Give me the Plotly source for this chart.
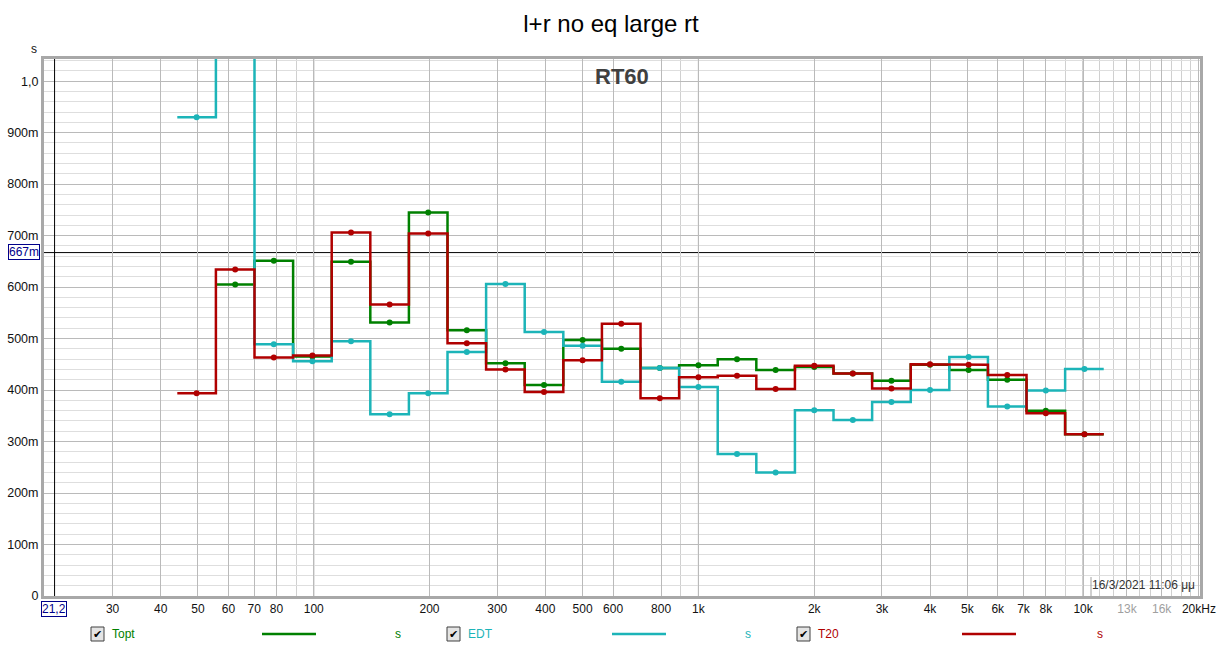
import math
import plotly.graph_objects as go

# 1/3 octave band centres (nominal, Hz)
bands = [50, 63, 80, 100, 125, 160, 200, 250, 315, 400, 500, 630, 800,
         1000, 1250, 1600, 2000, 2500, 3150, 4000, 5000, 6300, 8000, 10000]

# RT60 values per band (s), None = no value
topt = [None, 0.605, 0.651, 0.465, 0.649, 0.531, 0.745, 0.516, 0.452, 0.410, 0.497, 0.480,
        0.443, 0.448, 0.460, 0.439, 0.445, 0.432, 0.418, 0.449, 0.439, 0.420, 0.360, 0.314]
edt = [0.930, 1.250, 0.489, 0.456, 0.495, 0.353, 0.394, 0.474, 0.606, 0.513, 0.486, 0.416,
       0.443, 0.406, 0.276, 0.240, 0.361, 0.342, 0.377, 0.400, 0.464, 0.368, 0.399, 0.441]
t20 = [0.394, 0.634, 0.463, 0.467, 0.706, 0.566, 0.704, 0.491, 0.440, 0.396, 0.458, 0.529,
       0.384, 0.425, 0.428, 0.402, 0.447, 0.432, 0.403, 0.450, 0.449, 0.429, 0.355, 0.314]

x_tickvals = [30, 40, 50, 60, 70, 80, 100, 200, 300, 400, 500, 600, 800, 1000, 2000, 3000,
              4000, 5000, 6000, 7000, 8000, 10000, 13000, 16000, 20000]
x_ticktext = ["30", "40", "50", "60", "70", "80", "100", "200", "300", "400", "500", "600",
              "800", "1k", "2k", "3k", "4k", "5k", "6k", "7k", "8k", "10k",
              "<span style='color:#a0a0a0'>13k</span>", "<span style='color:#a0a0a0'>16k</span>",
              "20kHz"]
x_minor = [90, 900, 9000, 11000, 12000, 14000, 15000, 17000, 18000, 19000]
y_tickvals = [0, 0.1, 0.2, 0.3, 0.4, 0.5, 0.6, 0.7, 0.8, 0.9, 1.0]
y_ticktext = ["0", "100m", "200m", "300m", "400m", "500m", "600m", "700m", "800m", "900m", "1,0"]

cursor_x = 21.2
cursor_y = 0.667

W, H = 1222, 649
L, R, T, B = 44, 1200, 59, 596

font = "Liberation Sans, Arial, sans-serif"


def px(x):
    return (x - L) / (R - L)


def py(y):
    return (B - y) / (B - T)


def centre(f):
    n = round(3 * math.log2(f / 1000))
    return 1000 * 2 ** (n / 3)


def steps(values):
    xs, ys = [], []
    prev = None
    for f, v in zip(bands, values):
        if v is None:
            if prev is not None:
                xs.append(None)
                ys.append(None)
            prev = None
            continue
        c = centre(f)
        xs += [c * 2 ** (-1 / 6), c * 2 ** (1 / 6)]
        ys += [v, v]
        prev = v
    return xs, ys


def note(text, x, y, size=12, color="#111", xanchor="center", **kw):
    return dict(text=text, x=px(x), y=py(y), xref="paper", yref="paper", showarrow=False,
                xanchor=xanchor, yanchor="middle",
                font=dict(size=size, color=color, family=kw.pop("family", font)), **kw)


series = [("Topt", topt, "#008000"), ("EDT", edt, "#1cb4b8"), ("T20", t20, "#b00000")]

fig = go.Figure()
for name, vals, col in series:
    xs, ys = steps(vals)
    fig.add_trace(go.Scatter(x=xs, y=ys, mode="lines", line=dict(color=col, width=2.5),
                             name=name, showlegend=False, hoverinfo="skip"))
    mx = [centre(f) for f, v in zip(bands, vals) if v is not None]
    my = [v for v in vals if v is not None]
    fig.add_trace(go.Scatter(x=mx, y=my, mode="markers", marker=dict(color=col, size=6),
                             name=name, showlegend=False))

fig.update_layout(
    width=W, height=H, autosize=False,
    margin=dict(l=L, r=W - R, t=T, b=H - B),
    paper_bgcolor="white", plot_bgcolor="white",
    font=dict(family=font, size=12, color="#111"),
    title=dict(text="l+r no eq large rt", x=0.5, xanchor="center", y=1 - 24 / H,
               yanchor="middle", font=dict(size=24, color="black", family=font)),
    xaxis=dict(type="log", range=[math.log10(19.9), math.log10(20130)], automargin=False,
               tickmode="array", tickvals=x_tickvals, ticktext=x_ticktext,
               showgrid=True, gridcolor="#bababa", gridwidth=1, ticks="",
               minor=dict(tickmode="array", tickvals=x_minor, showgrid=True,
                          gridcolor="#d0d0d0", gridwidth=1, ticks=""),
               showline=True, linecolor="#a8a8a8", linewidth=3, mirror=True,
               zeroline=False, tickfont=dict(size=12, color="#111")),
    yaxis=dict(range=[0, 1.043], automargin=False, tickmode="array", tickvals=y_tickvals,
               ticktext=y_ticktext,
               showgrid=True, gridcolor="#bababa", gridwidth=1, ticks="",
               minor=dict(dtick=0.02, showgrid=True, gridcolor="#dedede", gridwidth=1, ticks=""),
               showline=True, linecolor="#a8a8a8", linewidth=3, mirror=True,
               zeroline=False, tickfont=dict(size=12.5, color="#111")),
)

shapes = []
# darker decade grid lines
for d in [100, 1000, 10000]:
    shapes.append(dict(type="line", xref="x", yref="paper", x0=d, x1=d, y0=0, y1=1,
                       line=dict(color="#808080", width=1), layer="between"))
# cursor lines
shapes.append(dict(type="line", xref="x", yref="paper", x0=cursor_x, x1=cursor_x, y0=0, y1=1,
                   line=dict(color="black", width=1), layer="above"))
shapes.append(dict(type="line", xref="paper", yref="y", x0=0, x1=1, y0=cursor_y, y1=cursor_y,
                   line=dict(color="black", width=1), layer="between"))

annotations = [
    note("<b>RT60</b>", 622, 76, size=22, color="#404040"),
    note("s", 34, 49),
    note("667m", 24, 252, color="#00008b", bordercolor="#00008b", borderwidth=1,
         borderpad=0, bgcolor="white"),
    note("21,2", 54, 609, color="#00008b", bordercolor="#00008b", borderwidth=1,
         borderpad=0, bgcolor="white"),
    note("16/3/2021 11:06 μμ", 1197, 585, color="#333", xanchor="right"),
]
shapes.append(dict(type="line", xref="paper", yref="paper", x0=px(1091), x1=px(1091),
                   y0=py(577), y1=0, line=dict(color="#a0a0a0", width=1)))

# legend row
leg_y = 634
leg = [("Topt", "#008000", 91, 262, 398), ("EDT", "#1cb4b8", 447, 612, 748),
       ("T20", "#b00000", 797, 962, 1100)]
for name, col, cb, lx, sx in leg:
    shapes.append(dict(type="rect", xref="paper", yref="paper", x0=px(cb), x1=px(cb + 13),
                       y0=py(leg_y + 7), y1=py(leg_y - 7), fillcolor="#e4e4e4",
                       line=dict(color="#404040", width=1)))
    annotations.append(note("✔", cb + 6.5, leg_y, size=11, color="black", family="DejaVu Sans"))
    annotations.append(note(name, cb + 19, leg_y, color=col, xanchor="left"))
    shapes.append(dict(type="line", xref="paper", yref="paper", x0=px(lx), x1=px(lx + 54),
                       y0=py(leg_y), y1=py(leg_y), line=dict(color=col, width=2.5)))
    annotations.append(note("s", sx, leg_y, color=col))

fig.update_layout(shapes=shapes, annotations=annotations)

fig.write_html("out.html", config={"displayModeBar": False},
               post_script="document.body.style.margin='0';")
